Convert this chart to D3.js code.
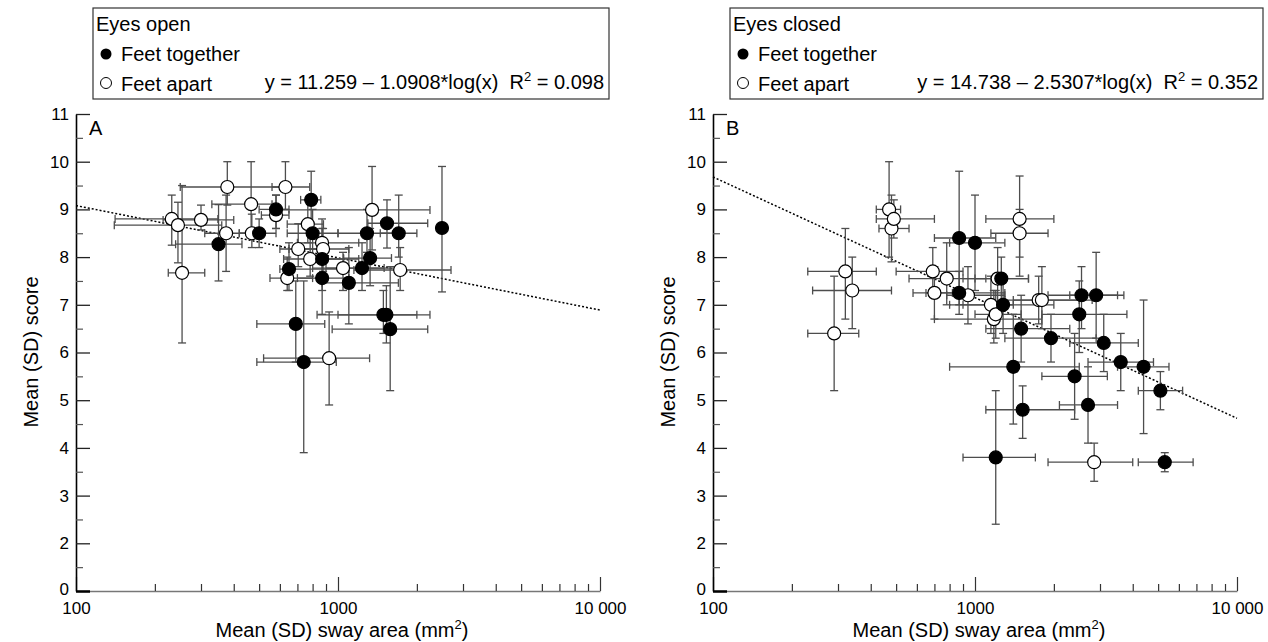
<!DOCTYPE html>
<html>
<head>
<meta charset="utf-8">
<script src="https://cdn.jsdelivr.net/npm/d3@7"></script>
<style>
body { margin: 0; background: #fff; }
text { font-family: "Liberation Sans", Arial, sans-serif; fill: #000; }
</style>
</head>
<body>
<svg width="1268" height="642"></svg>
<script>
var width = 1268;
var height = 642;

// each row: [mean area, mean score, area - sd, area + sd, score - sd, score + sd]
// panel A, eyes open
var openTogether = [
    [350, 8.27, 240, 430, 7.5, 9.1],
    [500, 8.5, 420, 580, 8.2, 8.8],
    [580, 9.0, 500, 650, 8.6, 9.3],
    [650, 7.75, 600, 1100, 7.3, 8.3],
    [690, 6.6, 490, 890, 5.8, 7.5],
    [740, 5.8, 490, 985, 3.9, 7.5],
    [790, 9.2, 720, 860, 8.5, 9.8],
    [800, 8.5, 640, 1000, 8.0, 9.0],
    [870, 7.56, 700, 1100, 6.8, 8.3],
    [870, 7.96, 760, 1200, 7.3, 8.6],
    [1100, 7.46, 870, 1700, 6.6, 8.2],
    [1235, 7.77, 900, 1700, 7.3, 8.3],
    [1290, 8.5, 1000, 1700, 8.1, 9.0],
    [1326, 7.98, 1050, 1600, 7.4, 8.6],
    [1490, 6.79, 832, 2244, 6.4, 7.3],
    [1530, 6.79, 1000, 2000, 6.2, 7.4],
    [1538, 8.71, 1300, 2200, 8.19, 9.2],
    [1582, 6.49, 950, 2200, 5.2, 7.8],
    [1705, 8.5, 1450, 2000, 8.0, 9.3],
    [2494, 8.61, 2494, 2494, 7.27, 9.9]
];
var openApart = [
    [232, 8.8, 141, 348, 8.25, 9.3],
    [245, 8.67, 140, 360, 7.88, 9.15],
    [254, 7.67, 225, 310, 6.2, 9.5],
    [300, 8.78, 215, 400, 8.57, 9.09],
    [378, 9.47, 250, 620, 9.09, 10.0],
    [374, 8.5, 310, 470, 7.7, 9.3],
    [466, 9.11, 330, 560, 8.5, 10.0],
    [469, 8.5, 420, 520, 8.2, 8.9],
    [580, 8.88, 510, 650, 8.6, 9.3],
    [630, 9.47, 560, 780, 9.0, 10.0],
    [640, 7.56, 550, 800, 7.3, 8.0],
    [705, 8.17, 600, 900, 7.8, 8.7],
    [767, 8.69, 640, 880, 8.3, 9.2],
    [783, 7.96, 620, 1050, 7.6, 8.5],
    [869, 8.3, 700, 1200, 7.9, 8.8],
    [877, 8.17, 650, 1100, 7.7, 8.6],
    [925, 5.88, 520, 1320, 4.9, 6.85],
    [1045, 7.77, 800, 1500, 7.3, 8.1],
    [1349, 8.99, 600, 2244, 8.15, 9.9],
    [1727, 7.73, 1150, 2700, 7.3, 8.2]
];
// panel B, eyes closed
var closedTogether = [
    [870, 8.4, 700, 1200, 7.0, 9.8],
    [870, 7.25, 650, 1300, 6.8, 7.7],
    [1000, 8.3, 800, 1300, 7.3, 9.3],
    [1200, 3.8, 900, 1700, 2.4, 5.2],
    [1260, 7.55, 1000, 1600, 7.0, 8.0],
    [1280, 7.0, 900, 2000, 6.4, 7.5],
    [1400, 5.7, 800, 2500, 4.5, 6.8],
    [1500, 6.5, 1100, 2300, 5.8, 7.2],
    [1520, 4.8, 1100, 2400, 4.2, 5.3],
    [1950, 6.3, 1300, 2900, 5.8, 6.8],
    [2400, 5.5, 1800, 3200, 4.6, 6.4],
    [2500, 6.8, 1800, 3800, 6.0, 7.5],
    [2550, 7.2, 1900, 3500, 6.5, 7.8],
    [2700, 4.9, 2100, 3500, 4.1, 5.7],
    [2900, 7.2, 2300, 3700, 6.3, 8.1],
    [3100, 6.2, 2300, 4200, 5.6, 6.8],
    [3600, 5.8, 2700, 4800, 5.2, 6.4],
    [4400, 5.7, 3500, 5500, 4.3, 7.1],
    [5100, 5.2, 4200, 6200, 4.8, 5.6],
    [5300, 3.7, 4200, 6800, 3.5, 3.9]
];
var closedApart = [
    [290, 6.4, 230, 360, 5.2, 7.6],
    [320, 7.7, 230, 420, 6.7, 8.6],
    [340, 7.3, 240, 480, 6.5, 8.0],
    [470, 9.0, 420, 520, 8.0, 10.0],
    [480, 8.6, 430, 560, 7.9, 9.3],
    [490, 8.8, 420, 700, 8.4, 9.2],
    [690, 7.7, 500, 900, 7.3, 8.2],
    [700, 7.25, 580, 820, 6.7, 7.8],
    [780, 7.55, 560, 1100, 7.0, 8.3],
    [940, 7.2, 780, 1300, 6.6, 7.8],
    [1150, 7.0, 800, 1400, 6.4, 7.6],
    [1180, 6.7, 700, 1800, 6.2, 7.3],
    [1200, 6.8, 1000, 1500, 6.3, 7.3],
    [1220, 7.55, 900, 1600, 7.0, 8.2],
    [1480, 8.8, 1100, 2000, 8.0, 9.7],
    [1480, 8.5, 1150, 1900, 7.6, 9.0],
    [1750, 7.1, 1300, 2800, 6.6, 7.6],
    [1800, 7.1, 1400, 2500, 6.5, 7.8],
    [2850, 3.7, 1900, 4000, 3.3, 4.1]
];

// dotted fit lines, score at the two ends of the x range
var fitX = [100, 10000];
var fitA = [9.08, 6.89];
var fitB = [9.68, 4.62];

var xMajor = [100, 1000, 10000];
var xMajorLabels = ["100", "1000", "10 000"];
var xMinor = [200, 300, 400, 500, 600, 700, 800, 900, 2000, 3000, 4000, 5000, 6000, 7000, 8000, 9000];
var yMajor = [1, 2, 3, 4, 5, 6, 7, 8, 9, 10, 11];
var yMajorLabels = ["0", "2", "3", "4", "5", "6", "7", "8", "9", "10", "11"];
var yMinor = [1.5, 2.5, 3.5, 4.5, 5.5, 6.5, 7.5, 8.5, 9.5, 10.5];

var svg = d3.select("svg");

function drawPanel(left, boxWidth, letter, title, equation, r2, together, apart, fit) {
    var x = d3.scaleLog().domain([100, 10000]).range([left, left + 524]);
    var y = d3.scaleLinear().domain([1, 11]).range([591, 114]);
    var g = svg.append("g");

    // legend box
    var lg = g.append("g");
    lg.append("rect")
        .attr("x", left + 17).attr("y", 8)
        .attr("width", boxWidth).attr("height", 91)
        .attr("fill", "none").attr("stroke", "#333").attr("stroke-width", 1.2);
    lg.append("text").attr("x", left + 20).attr("y", 31).attr("font-size", "20px").text(title);
    lg.append("circle").attr("cx", left + 30).attr("cy", 54).attr("r", 5.5).attr("fill", "#000");
    lg.append("text").attr("x", left + 45).attr("y", 61).attr("font-size", "20px").text("Feet together");
    lg.append("circle").attr("cx", left + 30).attr("cy", 83).attr("r", 5.5)
        .attr("fill", "#fff").attr("stroke", "#000").attr("stroke-width", 1);
    lg.append("text").attr("x", left + 45).attr("y", 91).attr("font-size", "20px").text("Feet apart");
    var eq = lg.append("text")
        .attr("x", left + 12 + boxWidth).attr("y", 89)
        .attr("font-size", "20px").attr("text-anchor", "end")
        .style("white-space", "pre");
    eq.append("tspan").text(equation + "  R");
    eq.append("tspan").attr("dy", -8).attr("font-size", "13px").text("2");
    eq.append("tspan").attr("dy", 8).text(" = " + r2);

    // axes
    var xAxis = g.append("g").attr("transform", "translate(0,591)")
        .call(d3.axisBottom(x).tickValues(xMajor).tickSize(-14).tickSizeOuter(0).tickPadding(11)
            .tickFormat(function (d, i) { return xMajorLabels[i]; }));
    var xMinorAxis = g.append("g").attr("transform", "translate(0,591)")
        .call(d3.axisBottom(x).tickValues(xMinor).tickSize(-7).tickSizeOuter(0).tickFormat(""));
    xMinorAxis.select(".domain").remove();
    xAxis.select(".domain").attr("stroke", "#777").attr("stroke-width", 1.6);
    xAxis.selectAll("text").attr("font-size", "17px");
    g.selectAll(".tick line").attr("stroke", "#333").attr("stroke-width", 1.2);

    var yAxis = g.append("g").attr("transform", "translate(" + left + ",0)")
        .call(d3.axisLeft(y).tickValues(yMajor).tickSize(-14).tickSizeOuter(0).tickPadding(7)
            .tickFormat(function (d, i) { return yMajorLabels[i]; }));
    var yMinorAxis = g.append("g").attr("transform", "translate(" + left + ",0)")
        .call(d3.axisLeft(y).tickValues(yMinor).tickSize(-7).tickSizeOuter(0).tickFormat(""));
    yMinorAxis.select(".domain").remove();
    yAxis.select(".domain").attr("stroke", "#000").attr("stroke-width", 1.6);
    yAxis.selectAll("text").attr("font-size", "17px");
    yAxis.selectAll(".tick line").attr("stroke", "#222").attr("stroke-width", 1.3);
    yMinorAxis.selectAll(".tick line").attr("stroke", "#555").attr("stroke-width", 1.2);
    // first tick drawn heavier, as in the print; its label sits a touch higher
    yAxis.select(".tick line").attr("stroke", "#000").attr("stroke-width", 2.5);
    yAxis.select(".tick text").attr("dy", "0.2em");

    g.append("text").attr("x", left + 13).attr("y", 135).attr("font-size", "20px").text(letter);

    g.append("text")
        .attr("transform", "translate(" + (left - 38) + ",352) rotate(-90)")
        .attr("text-anchor", "middle").attr("font-size", "20px")
        .text("Mean (SD) score");
    var xt = g.append("text").attr("x", left + 266).attr("y", 637)
        .attr("text-anchor", "middle").attr("font-size", "20px");
    xt.append("tspan").text("Mean (SD) sway area (mm");
    xt.append("tspan").attr("dy", -8).attr("font-size", "13px").text("2");
    xt.append("tspan").attr("dy", 8).text(")");

    // fit line
    g.append("line")
        .attr("x1", x(fitX[0])).attr("y1", y(fit[0]))
        .attr("x2", x(fitX[1])).attr("y2", y(fit[1]))
        .attr("stroke", "#000").attr("stroke-width", 1.5).attr("stroke-dasharray", "2,2");

    // error bars
    var all = together.concat(apart);
    var bars = g.append("g").attr("stroke", "#4d4d4d").attr("stroke-width", 1.3);
    all.forEach(function (d) {
        var cx = x(d[0]), cy = y(d[1]);
        if (d[3] > d[2]) {
            bars.append("line").attr("x1", x(d[2])).attr("x2", x(d[3])).attr("y1", cy).attr("y2", cy);
            bars.append("line").attr("x1", x(d[2])).attr("x2", x(d[2])).attr("y1", cy - 4).attr("y2", cy + 4);
            bars.append("line").attr("x1", x(d[3])).attr("x2", x(d[3])).attr("y1", cy - 4).attr("y2", cy + 4);
        }
        bars.append("line").attr("x1", cx).attr("x2", cx).attr("y1", y(d[4])).attr("y2", y(d[5]));
        bars.append("line").attr("x1", cx - 4).attr("x2", cx + 4).attr("y1", y(d[4])).attr("y2", y(d[4]));
        bars.append("line").attr("x1", cx - 4).attr("x2", cx + 4).attr("y1", y(d[5])).attr("y2", y(d[5]));
    });

    g.append("g").selectAll("circle").data(apart).enter().append("circle")
        .attr("cx", function (d) { return x(d[0]); })
        .attr("cy", function (d) { return y(d[1]); })
        .attr("r", 6.5).attr("fill", "#fff").attr("stroke", "#000").attr("stroke-width", 1.2);
    g.append("g").selectAll("circle").data(together).enter().append("circle")
        .attr("cx", function (d) { return x(d[0]); })
        .attr("cy", function (d) { return y(d[1]); })
        .attr("r", 6.5).attr("fill", "#000").attr("stroke", "#000").attr("stroke-width", 1.2);
}

drawPanel(76, 516, "A", "Eyes open", "y = 11.259 \u2013 1.0908*log(x)", "0.098", openTogether, openApart, fitA);
drawPanel(713, 533, "B", "Eyes closed", "y = 14.738 \u2013 2.5307*log(x)", "0.352", closedTogether, closedApart, fitB);
</script>
</body>
</html>
